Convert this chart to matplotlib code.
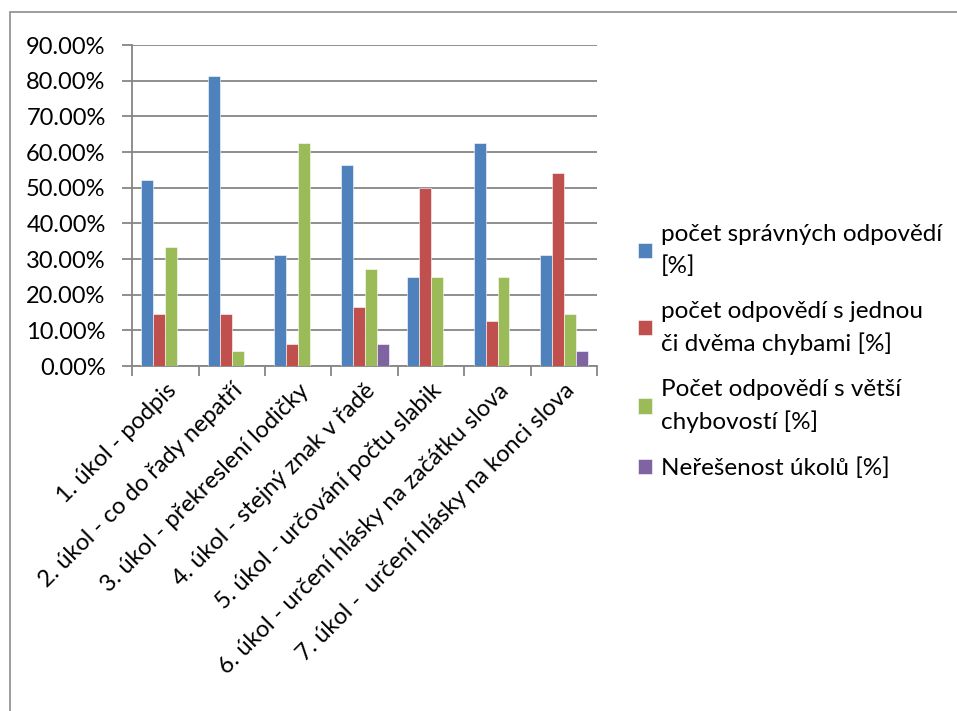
import matplotlib
matplotlib.use("Agg")
import matplotlib.pyplot as plt
from matplotlib.patches import Rectangle
from matplotlib.ticker import FuncFormatter, MultipleLocator
import numpy as np

plt.rcParams['font.family'] = ['Lato', 'DejaVu Sans']

# kategorie (úkoly)
ukoly = ['1. úkol - podpis',
         '2. úkol - co do řady nepatří',
         '3. úkol - překreslení lodičky',
         '4. úkol - stejný znak v řadě',
         '5. úkol - určování počtu slabik',
         '6. úkol - určení hlásky na začátku slova',
         '7. úkol -  určení hlásky na konci slova']

# hodnoty v procentech
spravne = [52.08, 81.25, 31.25, 56.25, 25.00, 62.50, 31.25]
jedna_dve_chyby = [14.58, 14.58, 6.25, 16.67, 50.00, 12.50, 54.17]
vetsi_chybovost = [33.33, 4.17, 62.50, 27.08, 25.00, 25.00, 14.58]
neresenost = [0, 0, 0, 6.25, 0, 0, 4.17]

nazvy = ['počet správných odpovědí\n[%]',
         'počet odpovědí s jednou\nči dvěma chybami [%]',
         'Počet odpovědí s větší\nchybovostí [%]',
         'Neřešenost úkolů [%]']
barvy = ['#4F81BD', '#C0504D', '#9BBB59', '#8064A2']
serie = [spravne, jedna_dve_chyby, vetsi_chybovost, neresenost]

fig = plt.figure(figsize=(9.57, 7.11), dpi=100)
ax = fig.add_axes([0.138, 0.4852, 0.486, 0.4515])

# rámeček kolem celého grafu
fig.patches.append(Rectangle((10 / 957, -0.01), 1.0, 1 - 12 / 711 + 0.01,
                             transform=fig.transFigure, fill=False,
                             edgecolor='#8c8c8c', linewidth=1.2))

x = np.arange(len(ukoly))
sirka = 0.18
for i, (hodnoty, nazev, barva) in enumerate(zip(serie, nazvy, barvy)):
    ax.bar(x + (i - 1.5) * sirka, hodnoty, width=sirka, color=barva,
           edgecolor='white', linewidth=0.4, label=nazev, zorder=3)

ax.set_xlim(-0.5, len(ukoly) - 0.5)
ax.set_ylim(0, 90)
ax.yaxis.set_major_locator(MultipleLocator(10))
ax.yaxis.set_major_formatter(FuncFormatter(lambda v, p: f'{v:.2f}%'))
ax.grid(axis='y', color='#868686', linewidth=1.3, zorder=0)

ax.set_xticks(np.arange(len(ukoly) + 1) - 0.5, minor=False)
ax.set_xticklabels([])
ax.set_xticks(x, minor=True)
ax.set_xticklabels(ukoly, minor=True, rotation=45, ha='right',
                   rotation_mode='anchor', fontsize=17)
ax.tick_params(axis='x', which='minor', length=0, pad=10)
ax.tick_params(axis='x', which='major', length=7, color='#868686', width=1.3)
ax.tick_params(axis='y', length=7, color='#868686', width=1.3, labelsize=17,
               pad=12)

for s in ['top', 'right']:
    ax.spines[s].set_visible(False)
for s in ['left', 'bottom']:
    ax.spines[s].set_color('#868686')
    ax.spines[s].set_linewidth(1.3)

leg = ax.legend(loc='center left', bbox_to_anchor=(1.04, 0.045), frameon=False,
                fontsize=17.5, handlelength=0.6, handleheight=0.6,
                handletextpad=0.35, labelspacing=1.0)
for t in leg.get_texts():
    t.set_linespacing(1.55)

fig.savefig('out.png', dpi=100)
